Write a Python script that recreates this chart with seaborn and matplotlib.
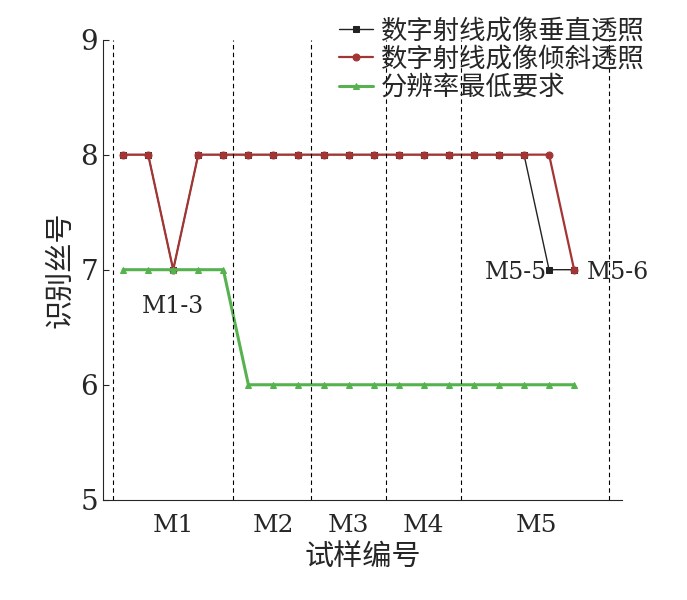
import matplotlib
matplotlib.use("Agg")
import matplotlib.pyplot as plt
import seaborn as sns
import pandas as pd

# samples 0..18 along x
sample_idx = list(range(19))
vertical = [8, 8, 7, 8, 8, 8, 8, 8, 8, 8, 8, 8, 8, 8, 8, 8, 8, 7, 7]
oblique = [8, 8, 7, 8, 8, 8, 8, 8, 8, 8, 8, 8, 8, 8, 8, 8, 8, 8, 7]
minimum = [7, 7, 7, 7, 7, 6, 6, 6, 6, 6, 6, 6, 6, 6, 6, 6, 6, 6, 6]
group_labels = ["M1", "M2", "M3", "M4", "M5"]
group_centers = [2, 6, 9, 12, 16.5]
group_bounds = [-0.4, 4.4, 7.5, 10.5, 13.5, 19.4]

sns.set_style("ticks")
plt.rcParams["font.family"] = ["Noto Sans CJK SC", "DejaVu Sans"]

df = pd.DataFrame({"x": sample_idx, "v": vertical, "o": oblique, "m": minimum})

fig = plt.figure(figsize=(6.87, 6), dpi=100)
ax = fig.add_axes([0.15, 0.167, 0.755, 0.767])

sns.lineplot(data=df, x="x", y="v", ax=ax, color="#222222", marker="s", markersize=4,
             markeredgecolor="#222222", lw=1, label="数字射线成像垂直透照")
sns.lineplot(data=df, x="x", y="o", ax=ax, color="#a33535", marker="o", markersize=5,
             markeredgecolor="#a33535", lw=1.6, label="数字射线成像倾斜透照")
sns.lineplot(data=df, x="x", y="m", ax=ax, color="#55b24f", marker="^", markersize=5,
             markeredgecolor="#55b24f", lw=2.2, label="分辨率最低要求")

for b in group_bounds:
    ax.axvline(b, color="black", ls="--", lw=0.8, dashes=(4, 3))

ax.set_xlim(-0.8, 19.9)
ax.set_ylim(5, 9)
ax.set_yticks([5, 6, 7, 8, 9])
ax.set_yticklabels(["5", "6", "7", "8", "9"], family="DejaVu Serif", fontsize=20)
ax.set_xticks(group_centers)
ax.set_xticklabels(group_labels, family="DejaVu Serif", fontsize=18)
ax.tick_params(axis="x", length=0, pad=10)
ax.tick_params(axis="y", direction="in", length=4)
ax.set_xlabel("试样编号", fontsize=21)
ax.set_ylabel("识别丝号", fontsize=21)
sns.despine(ax=ax, top=True, right=True)

ax.text(2, 6.68, "M1-3", family="DejaVu Serif", fontsize=17, ha="center", va="center")
ax.text(16.9, 6.98, "M5-5", family="DejaVu Serif", fontsize=17, ha="right", va="center")
ax.text(18.5, 6.98, "M5-6", family="DejaVu Serif", fontsize=17, ha="left", va="center")

ax.legend(loc="upper right", bbox_to_anchor=(1.09, 1.1), frameon=False, fontsize=19,
          handlelength=1.3, handletextpad=0.3, labelspacing=0.05)

fig.savefig("out.png", dpi=100)
